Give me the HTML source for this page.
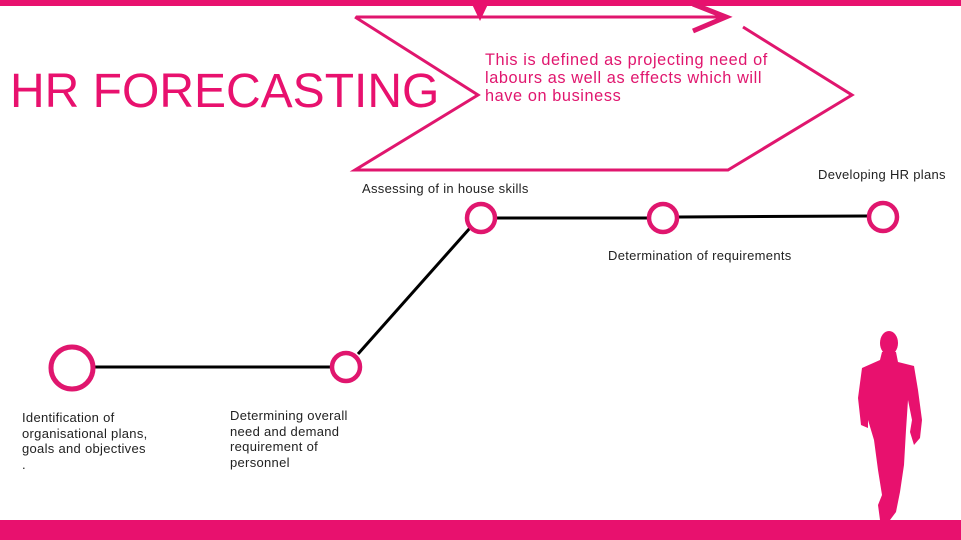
<!DOCTYPE html>
<html><head><style>
body{margin:0;width:961px;height:540px;overflow:hidden;background:#fff;font-family:"Liberation Sans",sans-serif;position:relative}
.t{position:absolute;font-size:13px;color:#222;line-height:15.5px;letter-spacing:0.3px}
</style></head><body>
<svg width="961" height="540" style="position:absolute;left:0;top:0">
<rect x="0" y="0" width="961" height="6" fill="#e8116e"/>
<rect x="0" y="520" width="961" height="20" fill="#e8116e"/>
<polygon points="470,0 490,0 480,21" fill="#e8116e"/>
<g fill="none" stroke="#e0166e" stroke-width="3">
<polyline points="356,17 726,17"/>
<polyline points="693,4 726,17 693,31" stroke-width="5"/>
<polyline points="743,27 852,95 728,170 355,170 478,95 355,17"/>
</g>
<g stroke="#000" stroke-width="3" fill="none">
<line x1="94" y1="367" x2="330" y2="367"/>
<line x1="358" y1="354" x2="470" y2="228"/>
<line x1="497" y1="218" x2="647" y2="218"/>
<line x1="679" y1="217" x2="867" y2="216"/>
</g>
<g stroke="#e0166e" fill="#fff">
<circle cx="72" cy="368" r="21" stroke-width="5"/>
<circle cx="346" cy="367" r="14" stroke-width="4.5"/>
<circle cx="481" cy="218" r="14" stroke-width="4.5"/>
<circle cx="663" cy="218" r="14" stroke-width="4.5"/>
<circle cx="883" cy="217" r="14" stroke-width="4.5"/>
</g>
<g fill="#e8116e">
<ellipse cx="889" cy="343" rx="9" ry="12"/>
<polygon points="882,352 896,352 898,362 914,366 918,390 922,420 920,438 914,445 910,432 912,420 908,400 906,430 904,465 900,492 896,512 890,520 880,520 878,505 882,495 878,470 874,440 868,420 868,428 861,425 858,398 862,368 880,360"/>
</g>
</svg>
<div style="position:absolute;left:10px;top:64px;font-size:48px;color:#e8116e;line-height:56px">HR FORECASTING</div>
<div style="position:absolute;left:485px;top:51px;font-size:16.3px;color:#e0166e;line-height:18px;white-space:nowrap;letter-spacing:0.6px">This is defined as projecting need of<br>labours as well as effects which will<br>have on business</div>
<div class="t" style="left:362px;top:181px">Assessing of in house skills</div>
<div class="t" style="left:818px;top:167px">Developing HR plans</div>
<div class="t" style="left:608px;top:248px">Determination of requirements</div>
<div class="t" style="left:230px;top:408px;white-space:nowrap">Determining overall<br>need and demand<br>requirement of<br>personnel</div>
<div class="t" style="left:22px;top:410px;white-space:nowrap">Identification of<br>organisational plans,<br>goals and objectives<br>.</div>
</body></html>
